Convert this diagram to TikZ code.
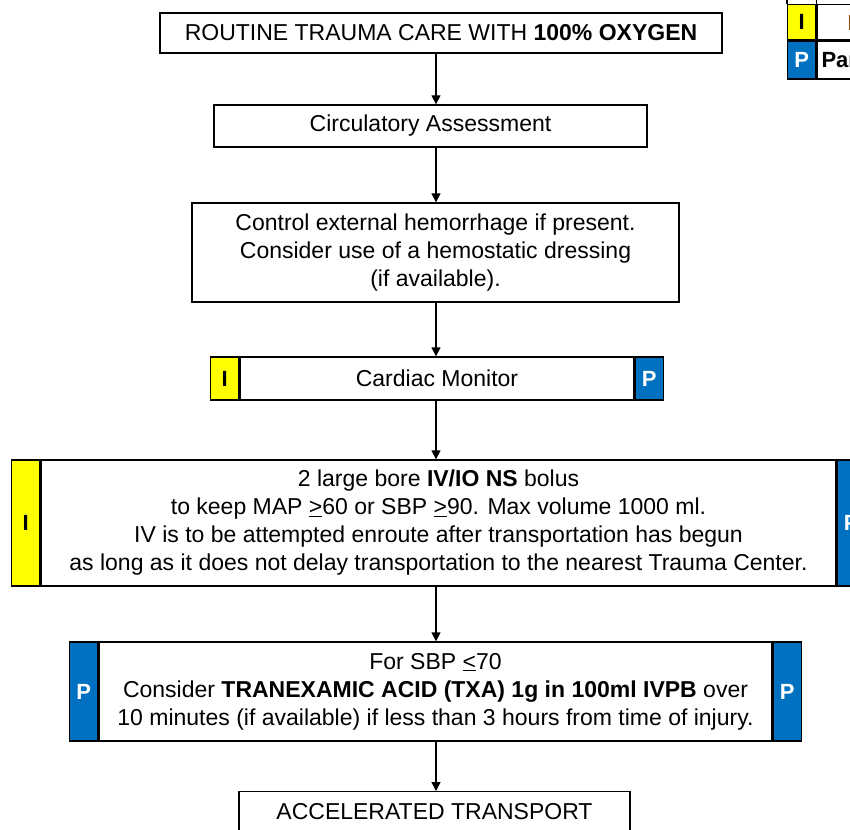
\documentclass[tikz,border=0pt]{standalone}
\usepackage{fontspec}
\setmainfont{Liberation Sans}
\usepackage{xcolor}
\usetikzlibrary{arrows.meta}
\definecolor{tagyellow}{RGB}{255,255,0}
\definecolor{tagblue}{RGB}{0,112,192}
\begin{document}
\begin{tikzpicture}[x=1pt,y=-1pt]
		\tikzstyle{every node}+=[font=\fontsize{23}{28}\selectfont]
		\tikzstyle{box}=[draw=black,line width=1.3pt,fill=white,align=center,inner sep=0pt]
		\tikzstyle{itag}=[box,fill=tagyellow,minimum width=28pt,font=\fontsize{22}{26}\selectfont\bfseries]
		\tikzstyle{ptag}=[box,fill=tagblue,text=white,minimum width=28pt,font=\fontsize{22}{26}\selectfont\bfseries]
		\tikzstyle{flow}=[line width=1.3pt,-{Triangle[width=9pt,length=9pt]}]
		\useasboundingbox (0,0) rectangle (850,829);
		\clip (0,0) rectangle (850,829);
		\coordinate (spine) at (436,0);
		% flow boxes
		\node [box,minimum width=562pt,minimum height=40pt] (oxygen) at (441,33) {ROUTINE TRAUMA CARE WITH \textbf{100\% OXYGEN}};
		\node [box,minimum width=433pt,minimum height=42pt] (circ) at (430.5,126) {Circulatory Assessment};
		\node [box,minimum width=487pt,minimum height=99pt] (bleed) at (435.5,252.5) {Control external hemorrhage if present.\\Consider use of a hemostatic dressing\\(if available).};
		\node [box,minimum width=394pt,minimum height=43pt] (cardiac) at (437,378.5) {Cardiac Monitor};
		\node [itag,minimum height=43pt,anchor=east] (cardiacI) at (cardiac.west) {I};
		\node [ptag,minimum height=43pt,anchor=west] (cardiacP) at (cardiac.east) {P};
		\node [box,minimum width=795pt,minimum height=126pt] (iv) at (438.5,523) {2 large bore \textbf{IV/IO NS} bolus\\to keep MAP \underline{>}60 or SBP \underline{>}90. Max volume 1000 ml.\\IV is to be attempted enroute after transportation has begun\\as long as it does not delay transportation to the nearest Trauma Center.};
		\node [itag,minimum height=126pt,anchor=east] (ivI) at (iv.west) {I};
		\node [ptag,minimum height=126pt,anchor=west] (ivP) at (iv.east) {P};
		\node [box,minimum width=673pt,minimum height=99pt] (txa) at (435.5,691.5) {For SBP \underline{<}70\\Consider \textbf{TRANEXAMIC ACID (TXA) 1g in 100ml IVPB} over\\10 minutes (if available) if less than 3 hours from time of injury.};
		\node [ptag,minimum height=99pt,anchor=east] (txaPl) at (txa.west) {P};
		\node [ptag,minimum height=99pt,anchor=west] (txaPr) at (txa.east) {P};
		\node [box,minimum width=391pt,minimum height=40pt,anchor=north] (transport) at (434.5,791) {ACCELERATED TRANSPORT};
		% arrows down the spine
		\draw [flow] (oxygen.south -| spine) -- (circ.north -| spine);
		\draw [flow] (circ.south -| spine) -- (bleed.north -| spine);
		\draw [flow] (bleed.south -| spine) -- (cardiac.north -| spine);
		\draw [flow] (cardiac.south -| spine) -- (iv.north -| spine);
		\draw [flow] (iv.south -| spine) -- (txa.north -| spine);
		\draw [flow] (txa.south -| spine) -- (transport.north -| spine);
		% key in the corner
		\node [itag,minimum height=35pt,anchor=north west] (keyI) at (787,4) {I};
		\node [ptag,minimum height=38pt,anchor=north west] (keyP) at (keyI.south west) {P};
		\node [box,minimum width=80pt,minimum height=35pt,anchor=north west] (keyIrow) at (keyI.north east) {};
		\node [box,minimum width=80pt,minimum height=38pt,anchor=north west] (keyProw) at (keyP.north east) {};
		\node [anchor=west,inner sep=0pt,font=\fontsize{22}{26}\selectfont\bfseries,text=orange!60!black] (keyItext) at ([xshift=31pt]keyIrow.west) {Intermediate};
		\node [anchor=west,inner sep=0pt,font=\fontsize{22}{26}\selectfont\bfseries] (keyPtext) at ([xshift=5pt]keyProw.west) {Paramedic};
		\draw [line width=1.3pt] (keyI.north west) -- (keyI.north west |- 0,0);
		\draw [line width=1.3pt] (keyI.north east) -- (keyI.north east |- 0,0);
		\end{tikzpicture}
\end{document}
